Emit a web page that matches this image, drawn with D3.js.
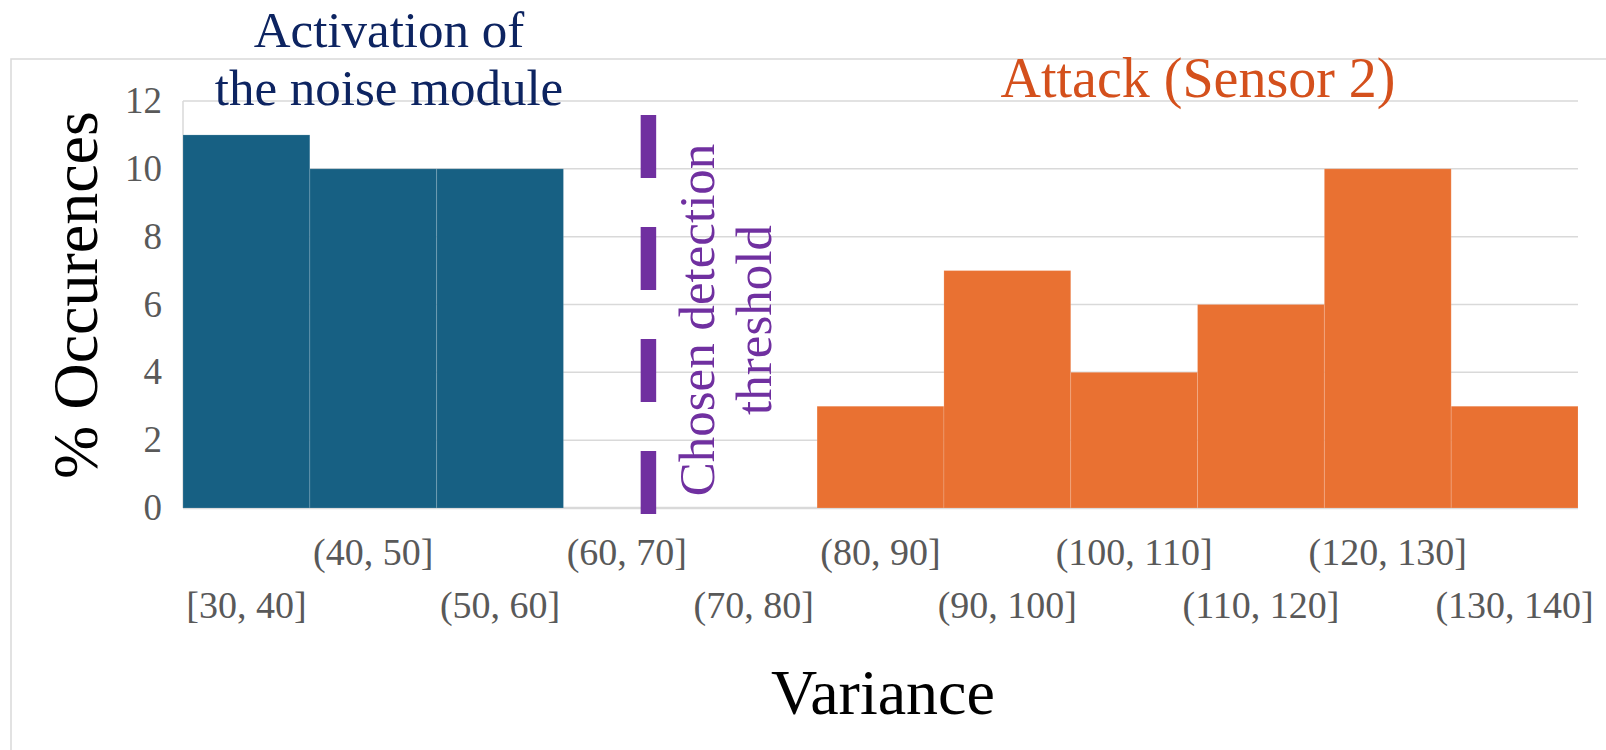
<!DOCTYPE html>
<html>
<head>
<meta charset="utf-8">
<script src="https://cdn.jsdelivr.net/npm/d3@7"></script>
<style>
  html, body { margin: 0; padding: 0; background: #ffffff; }
  svg { display: block; }
  text { font-family: "Liberation Serif", "Times New Roman", serif; }
</style>
</head>
<body>
<svg id="chart" width="1606" height="750"></svg>
<script>
// ---- data ----
const categories = ["[30, 40]", "(40, 50]", "(50, 60]", "(60, 70]", "(70, 80]", "(80, 90]",
                    "(90, 100]", "(100, 110]", "(110, 120]", "(120, 130]", "(130, 140]"];
const binEdges = [30, 40, 50, 60, 70, 80, 90, 100, 110, 120, 130, 140];
const noiseValues  = [11, 10, 10, 0, 0, 0, 0, 0, 0, 0, 0];
const attackValues = [0, 0, 0, 0, 0, 3, 7, 4, 6, 10, 3];
const yTicks = [0, 2, 4, 6, 8, 10, 12];
const thresholdValue = [66.7];
const noiseTitle = ["Activation of", "the noise module"];
const attackTitle = ["Attack (Sensor 2)"];
const thresholdLabel = ["Chosen detection", "threshold"];
const xTitle = "Variance";
const yTitle = "% Occurences";

// ---- layout ----
const plot = { left: 183, right: 1578, top: 101, bottom: 508 };
const colors = { noise: "#176083", attack: "#E97132", threshold: "#7030A0",
                 noiseTitle: "#0D2461", attackTitle: "#D4501C", tick: "#595959", grid: "#d9d9d9" };

const svg = d3.select("#chart");

// outer chart border
svg.append("rect").attr("x", 11).attr("y", 59).attr("width", 1700).attr("height", 800)
  .attr("fill", "none").attr("stroke", "#d9d9d9").attr("stroke-width", 1.5);

const x = d3.scaleBand().domain(categories).range([plot.left, plot.right]).padding(0);
const xLin = d3.scaleLinear().domain([binEdges[0], binEdges[binEdges.length - 1]]).range([plot.left, plot.right]);
const y = d3.scaleLinear().domain([0, 12]).range([plot.bottom, plot.top]);

// gridlines
svg.append("g").selectAll("line").data(yTicks).join("line")
  .attr("x1", plot.left).attr("x2", plot.right)
  .attr("y1", d => y(d)).attr("y2", d => y(d))
  .attr("stroke", colors.grid).attr("stroke-width", d => d === 0 ? 2.5 : 1.5);

// left plot edge
svg.append("line").attr("x1", plot.left).attr("x2", plot.left)
  .attr("y1", y(12)).attr("y2", y(0)).attr("stroke", colors.grid).attr("stroke-width", 1.5);

// bars
const bars = categories.map((c, i) => ({ c, noise: noiseValues[i], attack: attackValues[i] }));
svg.append("g").selectAll("rect.noise").data(bars.filter(d => d.noise > 0)).join("rect")
  .attr("x", d => x(d.c)).attr("width", x.bandwidth())
  .attr("y", d => y(d.noise)).attr("height", d => y(0) - y(d.noise))
  .attr("fill", colors.noise).attr("stroke", "rgba(255,255,255,0.15)").attr("stroke-width", 1);
svg.append("g").selectAll("rect.attack").data(bars.filter(d => d.attack > 0)).join("rect")
  .attr("x", d => x(d.c)).attr("width", x.bandwidth())
  .attr("y", d => y(d.attack)).attr("height", d => y(0) - y(d.attack))
  .attr("fill", colors.attack).attr("stroke", "rgba(255,255,255,0.15)").attr("stroke-width", 1);

// y tick labels
svg.append("g").selectAll("text").data(yTicks).join("text")
  .attr("x", 162).attr("y", d => y(d) + 12)
  .attr("text-anchor", "end").attr("fill", colors.tick)
  .attr("font-size", 37).text(d => d);

// x tick labels (staggered)
svg.append("g").selectAll("text").data(categories).join("text")
  .attr("x", d => x(d) + x.bandwidth() / 2)
  .attr("y", (d, i) => i % 2 === 1 ? 565 : 618)
  .attr("text-anchor", "middle").attr("fill", colors.tick)
  .attr("font-size", 38).text(d => d);

// threshold dashed line
svg.append("g").selectAll("line").data(thresholdValue).join("line")
  .attr("x1", d => xLin(d)).attr("x2", d => xLin(d))
  .attr("y1", y(12) + 14).attr("y2", y(0) + 6)
  .attr("stroke", colors.threshold).attr("stroke-width", 15.5)
  .attr("stroke-dasharray", "63 49");

// threshold label (rotated)
const thrX = xLin(thresholdValue[0]);
thresholdLabel.forEach((t, i) => {
  svg.append("text")
    .attr("transform", `translate(${thrX + 66 + i * 57},320) rotate(-90)`)
    .attr("text-anchor", "middle").attr("fill", colors.threshold)
    .attr("font-size", 51).text(t);
});

// annotation titles
noiseTitle.forEach((t, i) => {
  svg.append("text").attr("x", 389).attr("y", 47 + i * 58)
    .attr("text-anchor", "middle").attr("fill", colors.noiseTitle)
    .attr("font-size", 51).text(t);
});
svg.append("text").attr("x", 1198).attr("y", 97)
  .attr("text-anchor", "middle").attr("fill", colors.attackTitle)
  .attr("font-size", 56).text(attackTitle[0]);

// axis titles
svg.append("text").attr("x", 883).attr("y", 714)
  .attr("text-anchor", "middle").attr("fill", "#000").attr("font-size", 64).text(xTitle);
svg.append("text").attr("transform", "translate(97,295) rotate(-90)")
  .attr("text-anchor", "middle").attr("fill", "#000").attr("font-size", 64).text(yTitle);
</script>
</body>
</html>
